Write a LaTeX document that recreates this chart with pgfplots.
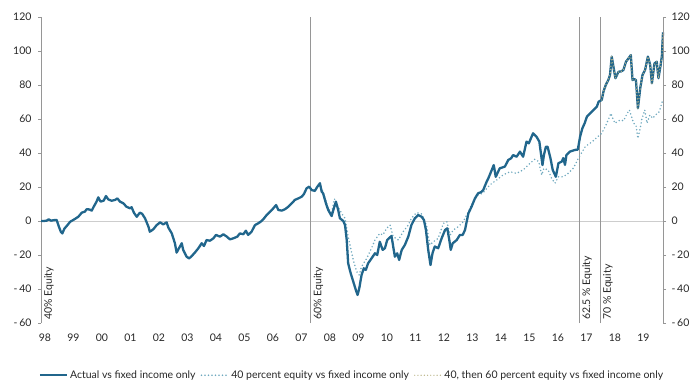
\documentclass[border=0pt]{standalone}
\usepackage{fontspec}
\setmainfont{Lato}
\usepackage{pgfplots}
\pgfplotsset{compat=1.18}
\definecolor{actual}{RGB}{33,102,140}
\definecolor{forty}{RGB}{110,168,190}
\definecolor{fsixty}{RGB}{185,180,135}
\definecolor{vline}{RGB}{150,150,150}
\definecolor{zline}{RGB}{205,205,205}
\begin{document}
\begin{tikzpicture}
\path[use as bounding box] (-41pt,-62pt) rectangle (659pt,323pt);
\begin{axis}[
  name=ax,
  scale only axis, width=622pt, height=306pt,
  xmin=1998, xmax=2019.83, ymin=-60, ymax=120,
  axis x line*=bottom, axis y line*=left,
  x axis line style={draw=none},
  y axis line style={draw=vline, line width=0.6pt},
  xtick={1998.14,1999.14,2000.14,2001.14,2002.14,2003.14,2004.14,2005.14,2006.14,2007.14,2008.14,2009.14,2010.14,2011.14,2012.14,2013.14,2014.14,2015.14,2016.14,2017.14,2018.14,2019.14},
  xticklabels={98,99,00,01,02,03,04,05,06,07,08,09,10,11,12,13,14,15,16,17,18,19},
  x tick style={draw=none},
  ytick={-60,-40,-20,0,20,40,60,80,100,120},
  yticklabels={-\,60,-\,40,-\,20,0,20,40,60,80,100,120},
  y tick style={draw=vline, line width=0.6pt},
  major tick length=3pt, tick align=outside,
  tick label style={font=\fontsize{10.5}{12}\selectfont, text=black!85},
  xticklabel style={yshift=-4pt},
  yticklabel style={xshift=-3pt},
  clip=false,
  legend image code/.code={\draw[#1] (0pt,0pt) -- (27pt,0pt);},
  legend style={at={(0.5,-0.142)}, anchor=north, draw=none, fill=none,
    legend columns=3, font=\fontsize{10.5}{12}\selectfont, text=black!85,
    /tikz/every even column/.append style={column sep=3pt}},
  legend cell align=left,
]
\draw[zline, line width=0.6pt] (axis cs:1998,0) -- (axis cs:2019.83,0);
\draw[vline, line width=0.6pt] (axis cs:2007.46,-60) -- (axis cs:2007.46,120);
\draw[vline, line width=0.6pt] (axis cs:2016.89,-60) -- (axis cs:2016.89,120);
\draw[vline, line width=0.6pt] (axis cs:2017.62,-60) -- (axis cs:2017.62,120);
\node[rotate=90, anchor=north west, inner sep=3pt, font=\fontsize{10.5}{12}\selectfont, text=black!85] at (axis cs:1998,-60) {40\% Equity};
\node[rotate=90, anchor=north west, inner sep=3pt, font=\fontsize{10.5}{12}\selectfont, text=black!85] at (axis cs:2007.46,-60) {60\% Equity};
\node[rotate=90, anchor=north west, inner sep=3pt, font=\fontsize{10.5}{12}\selectfont, text=black!85] at (axis cs:2016.89,-60) {62.5 \% Equity};
\node[rotate=90, anchor=north west, inner sep=3pt, font=\fontsize{10.5}{12}\selectfont, text=black!85] at (axis cs:2017.62,-60) {70 \% Equity};
% 40 percent equity (drawn beneath)
\addplot[forget plot, forty, line width=1.7pt, line cap=round, line join=round, dash pattern=on 0pt off 3.5pt] coordinates {
(2007.50,18.2) (2007.61,18) (2007.70,20) (2007.79,21.5) (2007.90,17) (2008.00,12) (2008.08,7.4) (2008.20,5) (2008.30,13) (2008.43,8) (2008.55,4.5) (2008.67,1.6) (2008.78,-9.2) (2008.96,-23) (2009.08,-29.8) (2009.17,-31.8) (2009.25,-26.9) (2009.43,-22) (2009.60,-16) (2009.72,-11.2) (2009.89,-7.3) (2010.00,-8.2) (2010.13,-4.3) (2010.25,-2.4) (2010.36,-9.2) (2010.54,-11.2) (2010.71,-6.3) (2010.89,-2.4) (2011.00,1.6) (2011.18,4.9) (2011.36,4.1) (2011.53,-2.4) (2011.65,-14.1) (2011.77,-12.2) (2011.94,-10.2) (2012.12,-1.4) (2012.24,-0.4) (2012.36,-8.2) (2012.47,-5.3) (2012.65,-3.3) (2012.82,-0.4) (2013.00,5.5) (2013.17,11.4) (2013.34,15.3) (2013.50,16.3) (2013.75,21.2) (2013.99,24.1) (2014.22,27.1) (2014.46,29) (2014.69,28) (2014.92,30) (2015.16,33.9) (2015.33,36.3) (2015.47,35) (2015.57,27.1) (2015.65,31) (2015.80,30) (2015.92,25.1) (2016.04,22.2) (2016.16,26) (2016.33,26) (2016.50,28) (2016.68,31) (2016.86,36.9) (2017.10,43.7) (2017.33,46.5) (2017.68,51.6) (2017.86,57.5) (2018.00,63.3) (2018.14,57.5) (2018.32,59.4) (2018.45,59) (2018.57,63.3) (2018.65,65.3) (2018.80,57.5) (2018.88,56.5) (2018.95,48.6) (2019.03,54.5) (2019.08,59.4) (2019.19,65.3) (2019.27,57.5) (2019.37,62.4) (2019.47,60.4) (2019.57,62.4) (2019.70,64.3) (2019.82,71.2)
};
% Actual
\addplot[actual, line width=2.3pt, line join=round] coordinates {
(1998.00,0) (1998.10,0) (1998.20,0.2) (1998.27,1) (1998.35,0.2) (1998.45,0.5) (1998.55,0.6) (1998.62,-3) (1998.70,-6.5) (1998.75,-7.3) (1998.82,-4.5) (1998.90,-3) (1999.02,-0.5) (1999.19,1.2) (1999.31,2.5) (1999.43,4.9) (1999.54,5.5) (1999.60,6.9) (1999.70,6.8) (1999.78,6.1) (1999.85,8.4) (1999.95,11.4) (2000.01,13.9) (2000.09,11.4) (2000.20,12) (2000.28,14.7) (2000.36,12.7) (2000.48,11.9) (2000.60,12.4) (2000.68,13.3) (2000.77,11.4) (2000.89,10.4) (2001.00,8.4) (2001.12,7.5) (2001.18,8.1) (2001.26,4.9) (2001.36,2.5) (2001.47,4.9) (2001.55,4.2) (2001.65,1.6) (2001.77,-3.3) (2001.82,-6.3) (2001.94,-4.9) (2002.06,-2.4) (2002.18,-0.8) (2002.29,-2) (2002.41,-0.8) (2002.47,-3.9) (2002.59,-7.3) (2002.70,-13.1) (2002.76,-18.6) (2002.84,-16.1) (2002.94,-13.1) (2002.99,-17) (2003.11,-21) (2003.20,-22) (2003.29,-20.6) (2003.40,-18.6) (2003.52,-16.1) (2003.64,-13.1) (2003.72,-14.7) (2003.81,-11.2) (2003.93,-11.6) (2004.05,-10.2) (2004.14,-8.2) (2004.28,-9.2) (2004.40,-7.8) (2004.52,-9.2) (2004.63,-10.8) (2004.75,-10.2) (2004.89,-9.2) (2004.98,-7.3) (2005.10,-7.8) (2005.19,-5.7) (2005.27,-8.2) (2005.39,-6.3) (2005.51,-2.4) (2005.62,-1.4) (2005.71,-0.4) (2005.80,1) (2005.92,3.5) (2006.04,5.5) (2006.15,7.4) (2006.25,9.4) (2006.33,6.5) (2006.45,6.1) (2006.56,6.9) (2006.68,8.4) (2006.80,10.4) (2006.91,12.4) (2007.03,13.3) (2007.15,14.3) (2007.23,15.9) (2007.32,19.2) (2007.41,20.2) (2007.50,18.2) (2007.61,17.7) (2007.70,20.2) (2007.79,22.2) (2007.85,17.3) (2007.90,16.3) (2008.00,10.4) (2008.08,6.5) (2008.20,2.9) (2008.26,6.5) (2008.35,11.4) (2008.43,6.5) (2008.49,1.6) (2008.61,0) (2008.67,-2.4) (2008.73,-11.2) (2008.78,-24.9) (2008.87,-30.8) (2008.96,-35.7) (2009.05,-40.6) (2009.11,-43.5) (2009.17,-39.6) (2009.25,-31.8) (2009.33,-27.8) (2009.40,-28.8) (2009.48,-24.9) (2009.60,-22) (2009.72,-19) (2009.80,-20) (2009.89,-12.2) (2009.99,-17) (2010.07,-16) (2010.15,-11.2) (2010.25,-9.6) (2010.30,-8.8) (2010.42,-21) (2010.50,-19) (2010.57,-22.9) (2010.66,-17) (2010.77,-14.1) (2010.89,-9.2) (2011.00,-2.4) (2011.12,1.6) (2011.24,3.5) (2011.36,2.5) (2011.44,0.6) (2011.51,-5.3) (2011.59,-17) (2011.67,-25.9) (2011.74,-19) (2011.82,-15) (2011.94,-16) (2012.06,-10.2) (2012.18,-5.3) (2012.26,-4.3) (2012.33,-11.2) (2012.38,-17) (2012.45,-13.1) (2012.59,-11.2) (2012.70,-8.2) (2012.80,-8.2) (2012.88,-5.3) (2013.00,4.5) (2013.11,8.4) (2013.23,13.3) (2013.34,16.3) (2013.45,17) (2013.52,18.2) (2013.64,23.1) (2013.70,25.1) (2013.89,32.9) (2013.96,26) (2014.10,31) (2014.28,32) (2014.40,35.9) (2014.50,36.9) (2014.57,38.8) (2014.69,37.8) (2014.81,40.8) (2014.92,37.8) (2015.04,46.7) (2015.12,45.7) (2015.27,51.6) (2015.33,50.5) (2015.39,49.6) (2015.49,46.7) (2015.60,32.9) (2015.65,38.8) (2015.72,43.7) (2015.78,43.7) (2015.88,36.9) (2015.96,30) (2016.07,26) (2016.16,34) (2016.28,35) (2016.33,37) (2016.39,33) (2016.44,38.8) (2016.56,40.8) (2016.74,41.8) (2016.84,42) (2016.92,49.6) (2017.00,54.5) (2017.08,57.5) (2017.16,61.4) (2017.27,63.3) (2017.39,65.3) (2017.51,67.3) (2017.57,70.2) (2017.68,71.2) (2017.74,76.1) (2017.82,80) (2017.91,82.9) (2017.97,85.9) (2018.03,96.7) (2018.09,90.8) (2018.16,84) (2018.27,87.8) (2018.36,88) (2018.44,88.8) (2018.53,93.7) (2018.62,95.7) (2018.70,97.6) (2018.76,82.9) (2018.82,83.5) (2018.88,82.9) (2018.95,66.3) (2019.03,78) (2019.11,85.9) (2019.20,88.8) (2019.30,96.7) (2019.38,91.8) (2019.44,81) (2019.53,92.7) (2019.61,93.7) (2019.67,84) (2019.74,91) (2019.79,97) (2019.83,111)
};
\addlegendentry{Actual vs fixed income only}
\addlegendimage{forty, line width=1.7pt, line cap=round, dash pattern=on 0pt off 3.5pt}
\addlegendentry{40 percent equity vs fixed income only}
% 40, then 60 percent equity
\addplot[fsixty, line width=1.4pt, line cap=round, line join=round, dash pattern=on 0pt off 3.2pt] coordinates {
(2017.68,71.2) (2017.74,76.1) (2017.82,80) (2017.91,82.9) (2017.97,85.9) (2018.03,96.7) (2018.09,90.8) (2018.16,84) (2018.27,87.8) (2018.36,88) (2018.44,88.8) (2018.53,93.7) (2018.62,95.7) (2018.70,97.6) (2018.76,82.9) (2018.82,83.5) (2018.88,82.9) (2018.95,66.3) (2019.03,78) (2019.11,85.9) (2019.20,88.8) (2019.30,96.7) (2019.38,91.8) (2019.44,81) (2019.53,92.7) (2019.61,93.7) (2019.67,84) (2019.74,91) (2019.79,97) (2019.83,111)
};
\addlegendentry{40, then 60 percent equity vs fixed income only}
\end{axis}
\begin{axis}[
  scale only axis, width=622pt, height=306pt,
  xmin=1998, xmax=2019.83, ymin=-60, ymax=120,
  axis x line=none, axis y line*=right,
  y axis line style={draw=vline, line width=0.6pt},
  ytick={-60,-40,-20,0,20,40,60,80,100,120},
  yticklabels={-\,60,-\,40,-\,20,0,20,40,60,80,100,120},
  y tick style={draw=vline, line width=0.6pt},
  major tick length=3pt, tick align=outside,
  tick label style={font=\fontsize{10.5}{12}\selectfont, text=black!85},
  yticklabel style={xshift=2pt},
]
\end{axis}
\end{tikzpicture}
\end{document}
